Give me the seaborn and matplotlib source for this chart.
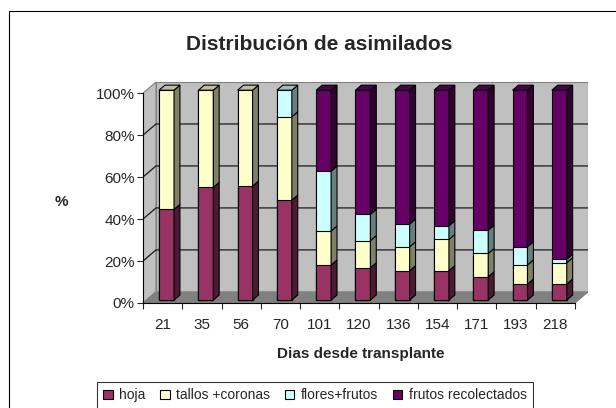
import matplotlib
matplotlib.use("Agg")
import matplotlib.pyplot as plt
import matplotlib.colors as mcolors
from matplotlib.patches import Polygon, Rectangle, Patch
import numpy as np
import seaborn as sns

dias = ["21", "35", "56", "70", "101", "120", "136", "154", "171", "193", "218"]
hoja = [43.2, 53.7, 54.3, 47.6, 16.7, 15.4, 14.0, 14.0, 11.1, 7.6, 7.6]
tallos = [56.8, 46.3, 45.7, 39.7, 16.2, 12.9, 11.4, 14.9, 11.1, 9.1, 10.2]
flores = [0, 0, 0, 12.7, 28.5, 12.5, 10.8, 6.5, 11.1, 8.7, 1.7]
frutos = [0, 0, 0, 0, 38.6, 59.2, 63.8, 64.6, 66.7, 74.6, 80.5]

series = ["hoja", "tallos +coronas", "flores+frutos", "frutos recolectados"]
colores = ["#993366", "#FFFFCC", "#CCFFFF", "#660066"]
yticks = [0, 20, 40, 60, 80, 100]

sns.set_style("white")
plt.rcParams["font.family"] = ["Liberation Sans", "DejaVu Sans"]

fig = plt.figure(figsize=(6.16, 4.08), dpi=100)
ax = fig.add_axes([143 / 616, 1 - 303 / 408, (588 - 143) / 616, (303 - 82) / 408])

# depth of the 3D box and of the bars (data units)
dx, dy = 0.331, 5.3
bx, by = 0.10, 1.4
bdx, bdy = 0.15, 2.4
w = 0.38
n = len(dias)

def shade(c, f):
    r, g, b = mcolors.to_rgb(c)
    return (r * f, g * f, b * f)

# walls and floor
x0, x1 = -0.5, n - 0.5
ax.add_patch(Polygon([(x0 + dx, dy), (x1 + dx, dy), (x1 + dx, 100 + dy), (x0 + dx, 100 + dy)],
                     closed=True, facecolor="#C0C0C0", edgecolor="#808080", lw=0.8, zorder=0))
ax.add_patch(Polygon([(x0, 0), (x0 + dx, dy), (x0 + dx, 100 + dy), (x0, 100)],
                     closed=True, facecolor="#C0C0C0", edgecolor="#808080", lw=0.8, zorder=0))
ax.add_patch(Polygon([(x0, 0), (x1, 0), (x1 + dx, dy), (x0 + dx, dy)],
                     closed=True, facecolor="#808080", edgecolor="#808080", lw=0.8, zorder=0.2))
for v in yticks[1:-1]:
    ax.plot([x0, x0 + dx, x1 + dx], [v, v + dy, v + dy], color="#1a1a1a", lw=0.9, zorder=0.5)

# stacked bars (cumulative, drawn from top layer down)
capas = [hoja, tallos, flores, frutos]
cum = np.cumsum(np.array(capas, dtype=float), axis=0)
for k in reversed(range(len(capas))):
    sns.barplot(x=dias, y=cum[k], color=colores[k], saturation=1, width=w,
                edgecolor="black", linewidth=0.8, errorbar=None, ax=ax, zorder=2)
for p in ax.patches:
    if p.get_zorder() == 2:
        p.set_x(p.get_x() + bx)
        p.set_y(p.get_y() + by)

# side and top faces
for i in range(n):
    xr = i + w / 2 + bx
    xl = i - w / 2 + bx
    prev = 0.0
    top_k = 0
    for k in range(len(capas)):
        hi = cum[k][i]
        if hi - prev > 0.05:
            ax.add_patch(Polygon([(xr, prev + by), (xr + bdx, prev + by + bdy),
                                  (xr + bdx, hi + by + bdy), (xr, hi + by)],
                                 closed=True, facecolor=shade(colores[k], 0.5),
                                 edgecolor="black", lw=0.8, zorder=2.1))
            top_k = k
        prev = hi
    t = cum[-1][i] + by
    ax.add_patch(Polygon([(xl, t), (xr, t), (xr + bdx, t + bdy), (xl + bdx, t + bdy)],
                         closed=True, facecolor=shade(colores[top_k], 0.75),
                         edgecolor="black", lw=0.8, zorder=2.1))

ax.set_xlim(x0, x1 + dx)
ax.set_ylim(0, 100 + dy)
for s in ["top", "right"]:
    ax.spines[s].set_visible(False)
ax.spines["left"].set_bounds(0, 100)
ax.spines["bottom"].set_bounds(x0, x1)
for s in ["left", "bottom"]:
    ax.spines[s].set_color("black")
    ax.spines[s].set_linewidth(0.8)
    ax.spines[s].set_zorder(3)

ax.set_yticks(yticks)
ax.set_yticklabels([f"{v}%" for v in yticks])
ax.set_xticks(range(n))
ax.set_xticklabels(dias)
ax.set_xticks(np.arange(x0, x1 + 0.01, 1), minor=True)
ax.tick_params(axis="y", direction="out", length=4, width=0.8, pad=2, labelsize=11, left=True)
ax.tick_params(axis="x", which="major", length=0, pad=11, labelsize=11)
ax.tick_params(axis="x", which="minor", direction="out", length=4, width=0.8, bottom=True)
ax.set_xlabel("")
ax.set_ylabel("")
ax.patch.set_alpha(0)

fig.text(319 / 616, 1 - 45 / 408, "Distribución de asimilados", ha="center", va="center",
         fontsize=15, fontweight="bold")
fig.text(61 / 616, 1 - 202 / 408, "%", ha="center", va="center", fontsize=11, fontweight="bold")
fig.text(361 / 616, 1 - 354 / 408, "Dias desde transplante", ha="center", va="center",
         fontsize=11, fontweight="bold")

handles = [Patch(facecolor=c, edgecolor="black", lw=0.8) for c in colores]
leg = fig.legend(handles, series, ncol=4, loc="upper left",
                 bbox_to_anchor=(97 / 616, 1 - 382 / 408), fontsize=10, frameon=True,
                 fancybox=False, handlelength=0.7, handleheight=0.7, handletextpad=0.45,
                 columnspacing=1.05, borderpad=0.45, borderaxespad=0)
leg.get_frame().set_edgecolor("black")
leg.get_frame().set_linewidth(0.8)

fig.patches.append(Rectangle((9 / 616, -0.1), 1.0, 1.1 - 11 / 408, transform=fig.transFigure,
                             fill=False, edgecolor="black", lw=0.8))

fig.savefig("out.png", dpi=100)
